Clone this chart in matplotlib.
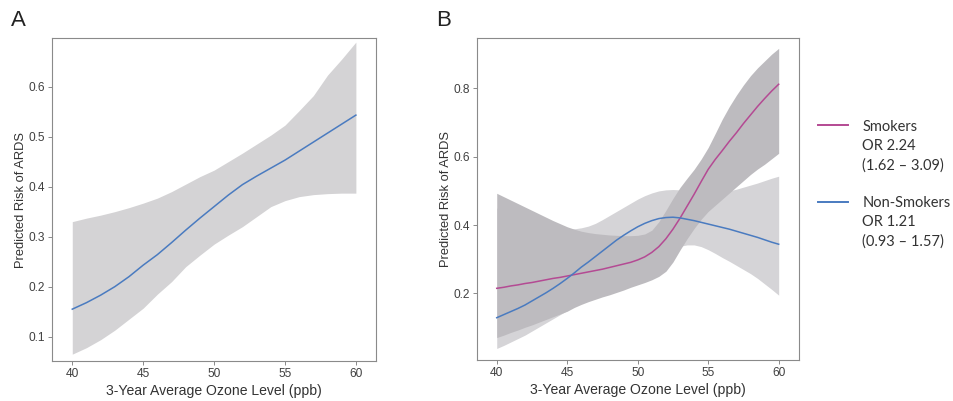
import matplotlib
matplotlib.use("Agg")
import matplotlib.pyplot as plt

# ---------------- data ----------------
# Panel A (all patients), 1 ppb steps
ozone_a = [40, 41, 42, 43, 44, 45, 46, 47, 48, 49, 50, 51, 52, 53, 54, 55, 56, 57, 58, 59, 60]
a_risk  = [0.155, 0.168, 0.183, 0.200, 0.220, 0.243, 0.264, 0.288, 0.313, 0.337, 0.360,
           0.383, 0.404, 0.421, 0.437, 0.453, 0.471, 0.489, 0.507, 0.525, 0.543]
a_upper = [0.330, 0.337, 0.343, 0.350, 0.358, 0.367, 0.377, 0.390, 0.405, 0.420, 0.433,
           0.450, 0.467, 0.485, 0.503, 0.523, 0.552, 0.582, 0.623, 0.655, 0.689]
a_lower = [0.065, 0.078, 0.094, 0.113, 0.135, 0.157, 0.185, 0.210, 0.240, 0.263, 0.285,
           0.303, 0.320, 0.340, 0.360, 0.372, 0.380, 0.384, 0.386, 0.387, 0.387]

# Panel B (smokers vs non-smokers), 0.5 ppb steps
ozone_b = [40.0, 40.5, 41.0, 41.5, 42.0, 42.5, 43.0, 43.5, 44.0, 44.5, 45.0, 45.5, 46.0, 46.5,
           47.0, 47.5, 48.0, 48.5, 49.0, 49.5, 50.0, 50.5, 51.0, 51.5, 52.0, 52.5, 53.0, 53.5,
           54.0, 54.5, 55.0, 55.5, 56.0, 56.5, 57.0, 57.5, 58.0, 58.5, 59.0, 59.5, 60.0]
smk_risk = [0.215, 0.218, 0.222, 0.225, 0.229, 0.232, 0.236, 0.240, 0.244, 0.247, 0.251, 0.255,
            0.259, 0.263, 0.267, 0.271, 0.276, 0.281, 0.286, 0.291, 0.298, 0.307, 0.320, 0.337,
            0.360, 0.388, 0.420, 0.455, 0.490, 0.527, 0.563, 0.592, 0.618, 0.645, 0.670, 0.697,
            0.722, 0.747, 0.770, 0.792, 0.812]
smk_upper = [0.493, 0.483, 0.473, 0.463, 0.453, 0.443, 0.433, 0.423, 0.413, 0.404, 0.395, 0.388,
             0.382, 0.378, 0.375, 0.373, 0.371, 0.370, 0.369, 0.369, 0.370, 0.374, 0.385, 0.410,
             0.443, 0.478, 0.510, 0.537, 0.563, 0.593, 0.627, 0.668, 0.710, 0.747, 0.780, 0.810,
             0.837, 0.860, 0.880, 0.900, 0.917]
smk_lower = [0.071, 0.078, 0.086, 0.093, 0.101, 0.108, 0.116, 0.124, 0.132, 0.140, 0.148, 0.159,
             0.168, 0.176, 0.183, 0.190, 0.196, 0.203, 0.210, 0.218, 0.225, 0.232, 0.240, 0.250,
             0.265, 0.292, 0.327, 0.360, 0.390, 0.417, 0.440, 0.458, 0.476, 0.494, 0.512, 0.530,
             0.548, 0.564, 0.578, 0.594, 0.610]
non_risk = [0.129, 0.138, 0.147, 0.156, 0.166, 0.178, 0.190, 0.202, 0.215, 0.229, 0.244, 0.260,
            0.277, 0.292, 0.308, 0.324, 0.340, 0.356, 0.370, 0.383, 0.395, 0.405, 0.413, 0.419,
            0.422, 0.423, 0.421, 0.417, 0.413, 0.408, 0.403, 0.398, 0.393, 0.388, 0.382, 0.376,
            0.370, 0.364, 0.357, 0.350, 0.344]
non_upper = [0.450, 0.443, 0.435, 0.428, 0.420, 0.412, 0.405, 0.400, 0.395, 0.391, 0.388, 0.389,
             0.392, 0.397, 0.405, 0.416, 0.428, 0.440, 0.452, 0.464, 0.476, 0.486, 0.494, 0.500,
             0.503, 0.504, 0.503, 0.500, 0.496, 0.493, 0.492, 0.493, 0.495, 0.500, 0.505, 0.511,
             0.517, 0.523, 0.530, 0.537, 0.543]
non_lower = [0.039, 0.048, 0.058, 0.068, 0.078, 0.090, 0.102, 0.114, 0.126, 0.138, 0.150, 0.165,
             0.180, 0.195, 0.210, 0.225, 0.240, 0.253, 0.265, 0.277, 0.288, 0.298, 0.308, 0.317,
             0.325, 0.332, 0.338, 0.342, 0.342, 0.337, 0.328, 0.317, 0.305, 0.294, 0.282, 0.270,
             0.258, 0.244, 0.228, 0.212, 0.195]

x_ticks = [40, 45, 50, 55, 60]
a_yticks = [0.1, 0.2, 0.3, 0.4, 0.5, 0.6]
b_yticks = [0.2, 0.4, 0.6, 0.8]

legend_labels = ["Smokers\nOR 2.24\n(1.62 \u2013 3.09)",
                 "Non-Smokers\nOR 1.21\n(0.93 \u2013 1.57)"]

# ---------------- style ----------------
plt.rcParams['font.family'] = ['Liberation Sans', 'DejaVu Sans']
BLUE = '#4a7bc0'
MAGENTA = '#b44a93'
LIGHT = '#d5d4d7'
DARK = '#bdbbbf'
SPINE = '#8a8a8a'
TICKTXT = '#404040'

fig = plt.figure(figsize=(9.54, 4.01), dpi=100)
axA = fig.add_axes([0.0545, 0.0998, 0.3395, 0.8052])
axB = fig.add_axes([0.4997, 0.102, 0.3378, 0.803])


def style(ax, yticks):
    for s in ax.spines.values():
        s.set_color(SPINE)
        s.set_linewidth(0.8)
    ax.set_xticks(x_ticks)
    ax.set_yticks(yticks)
    ax.tick_params(axis='both', colors=SPINE, labelcolor=TICKTXT, labelsize=8.6,
                   length=3, width=0.7, direction='out')
    ax.tick_params(axis='y', pad=2)
    ax.tick_params(axis='x', pad=2)
    ax.set_xlabel("3-Year Average Ozone Level (ppb)", fontsize=10.1, color='#333333', labelpad=3)
    ax.set_ylabel("Predicted Risk of ARDS", fontsize=9.3, color='#333333', labelpad=1)


# Panel A
axA.fill_between(ozone_a, a_lower, a_upper, color='#d4d3d5', linewidth=0)
axA.plot(ozone_a, a_risk, color=BLUE, lw=1.1)
axA.set_xlim(38.57, 61.41)
axA.set_ylim(0.0514, 0.697)
style(axA, a_yticks)
axA.set_yticklabels([f"{v:.1f}" for v in a_yticks])

# Panel B
axB.fill_between(ozone_b, non_lower, non_upper, color=LIGHT, linewidth=0)
axB.fill_between(ozone_b, smk_lower, smk_upper, color=DARK, linewidth=0)
axB.plot(ozone_b, smk_risk, color=MAGENTA, lw=1.1)
axB.plot(ozone_b, non_risk, color=BLUE, lw=1.1)
axB.set_xlim(38.58, 61.44)
axB.set_ylim(0.005, 0.947)
style(axB, b_yticks)
axB.set_yticklabels([f"{v:.1f}" for v in b_yticks])

# Panel letters
fig.text(0.012, 0.975, "A", fontsize=16, color='#222222', va='top', ha='left')
fig.text(0.457, 0.975, "B", fontsize=16, color='#222222', va='top', ha='left')

# Legend (manual)
leg_colors = [MAGENTA, BLUE]
leg_y = [0.688, 0.497]
for lab, col, yy in zip(legend_labels, leg_colors, leg_y):
    fig.add_artist(plt.Line2D([0.857, 0.889], [yy, yy], color=col, lw=1.4,
                              transform=fig.transFigure))
    fig.text(0.904, yy + 0.013, lab, fontsize=10.5, color='#333333', va='top', ha='left',
             linespacing=1.45, family=['Lato', 'DejaVu Sans'])

fig.savefig("out.png", dpi=100)
